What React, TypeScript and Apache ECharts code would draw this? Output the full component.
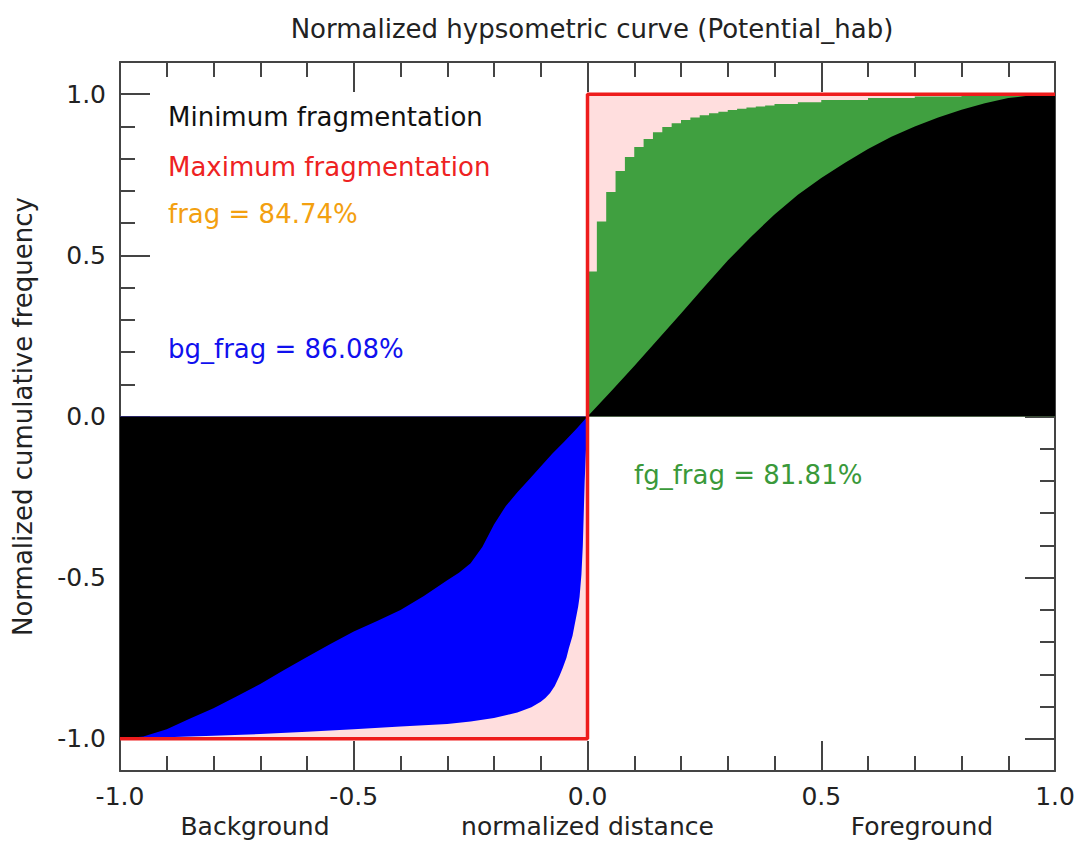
import React, { useEffect, useRef } from "react";
import * as echarts from "echarts";

const TITLE = "Normalized hypsometric curve (Potential_hab)";
const Y_NAME = "Normalized cumulative frequency";
const X_NAME = "normalized distance";
const X_LEFT_NAME = "Background";
const X_RIGHT_NAME = "Foreground";

const annotations = [
  { text: "Minimum fragmentation", color: "#111111" },
  { text: "Maximum fragmentation", color: "#ee2222" },
  { text: "frag = 84.74%", color: "#f3a010" },
  { text: "bg_frag = 86.08%", color: "#1010ee" },
  { text: "fg_frag = 81.81%", color: "#3a993a" },
];

// Maximum fragmentation (red outline)
const maxX = [-1, 0, 0, 1];
const maxY = [-1, -1, 1, 1];

// Foreground: minimum fragmentation curve (black)
const fgMinX = [0, 0.025, 0.05, 0.075, 0.1, 0.15, 0.2, 0.25, 0.3, 0.35, 0.4, 0.45, 0.5, 0.55, 0.6, 0.65, 0.7, 0.75, 0.8, 0.85, 0.9, 0.95, 1.0];
const fgMinY = [0, 0.039, 0.078, 0.117, 0.157, 0.238, 0.32, 0.403, 0.484, 0.558, 0.627, 0.688, 0.74, 0.787, 0.83, 0.868, 0.9, 0.928, 0.952, 0.972, 0.988, 0.997, 1.0];

// Foreground: actual cumulative curve (green, stepped bins)
const fgX = [0, 0.02, 0.04, 0.06, 0.08, 0.1, 0.12, 0.14, 0.16, 0.18, 0.2, 0.22, 0.24, 0.26, 0.28, 0.3, 0.32, 0.34, 0.36, 0.38, 0.4, 0.45, 0.5, 0.6, 0.7, 0.8, 0.9, 1.0];
const fgY = [0, 0.45, 0.605, 0.697, 0.762, 0.805, 0.836, 0.861, 0.882, 0.898, 0.91, 0.92, 0.928, 0.935, 0.941, 0.946, 0.951, 0.955, 0.959, 0.962, 0.965, 0.97, 0.975, 0.982, 0.988, 0.993, 0.998, 1.0];

// Background: minimum fragmentation curve (black / blue boundary)
const bgMinX = [-1.0, -0.95, -0.9, -0.85, -0.8, -0.75, -0.7, -0.65, -0.6, -0.55, -0.5, -0.45, -0.4, -0.35, -0.3, -0.275, -0.25, -0.225, -0.2, -0.175, -0.15, -0.125, -0.1, -0.075, -0.05, -0.025, 0];
const bgMinY = [-1.0, -0.993, -0.97, -0.937, -0.905, -0.868, -0.83, -0.787, -0.746, -0.706, -0.667, -0.634, -0.6, -0.557, -0.508, -0.485, -0.455, -0.405, -0.335, -0.278, -0.235, -0.195, -0.155, -0.115, -0.078, -0.04, 0];

// Background: actual cumulative curve (blue / pink boundary)
const bgX = [-1.0, -0.95, -0.9, -0.8, -0.7, -0.6, -0.5, -0.4, -0.3, -0.25, -0.2, -0.15, -0.12, -0.1, -0.09, -0.08, -0.07, -0.06, -0.053, -0.045, -0.04, -0.032, -0.028, -0.024, -0.02, -0.017, -0.013, -0.01, -0.008, -0.006, -0.004, -0.002, 0];
const bgY = [-1.0, -0.998, -0.995, -0.99, -0.985, -0.978, -0.97, -0.962, -0.954, -0.946, -0.935, -0.918, -0.902, -0.885, -0.873, -0.858, -0.836, -0.805, -0.78, -0.748, -0.72, -0.68, -0.65, -0.62, -0.59, -0.56, -0.49, -0.4, -0.3, -0.2, -0.13, -0.06, 0];

const FONT = '"DejaVu Sans", "Liberation Sans", sans-serif';

const zip = (xs: number[], ys: number[]) => xs.map((x, i) => [x, ys[i]]);

export default function App() {
  const ref = useRef<HTMLDivElement>(null);

  useEffect(() => {
    document.body.style.margin = "0";
    if (!ref.current) return;
    const chart = echarts.init(ref.current, undefined, { renderer: "svg" });

    const axisLine = { show: true, onZero: false, lineStyle: { color: "#444", width: 2 } };
    const tick = { show: true, inside: true, length: 30, lineStyle: { color: "#444", width: 2 } };
    const minor = { show: true, splitNumber: 5, length: 15, lineStyle: { color: "#444", width: 2 } };
    const fmt = (v: number) => (Math.abs(v) < 1e-9 ? "0.0" : v.toFixed(1));
    const label = { fontSize: 25, color: "#222", fontFamily: FONT, formatter: fmt };

    const areaLine = (name: string, data: number[][], color: string, opts: any = {}) => ({
      name,
      type: "line",
      data,
      showSymbol: false,
      symbol: "none",
      lineStyle: { width: 0 },
      areaStyle: { color, opacity: 1, origin: "auto" },
      silent: true,
      ...opts,
    });

    chart.setOption({
      animation: false,
      backgroundColor: "#ffffff",
      title: {
        text: TITLE,
        left: 587,
        textAlign: "center",
        top: 11,
        textStyle: { fontSize: 26, fontWeight: "normal", color: "#222", fontFamily: FONT },
      },
      grid: { left: 120, right: 28, top: 62, bottom: 72 },
      xAxis: [
        {
          type: "value",
          min: -1,
          max: 1,
          interval: 0.5,
          position: "bottom",
          axisLine,
          axisTick: tick,
          minorTick: minor,
          splitLine: { show: false },
          axisLabel: { ...label, margin: 13 },
          name: X_NAME,
          nameLocation: "middle",
          nameGap: 40,
          nameTextStyle: { fontSize: 25, color: "#222", fontFamily: FONT },
        },
        {
          type: "value",
          min: -1,
          max: 1,
          interval: 0.5,
          position: "top",
          axisLine,
          axisTick: tick,
          minorTick: minor,
          splitLine: { show: false },
          axisLabel: { show: false },
        },
      ],
      yAxis: [
        {
          type: "value",
          min: -1.1,
          max: 1.1,
          minInterval: 0.5,
          maxInterval: 0.5,
          position: "left",
          axisLine,
          axisTick: tick,
          minorTick: minor,
          splitLine: { show: false },
          axisLabel: { ...label, margin: 14, showMinLabel: false, showMaxLabel: false },
          name: Y_NAME,
          nameLocation: "middle",
          nameGap: 84,
          nameRotate: 90,
          nameTextStyle: { fontSize: 26, color: "#222", fontFamily: FONT },
        },
        {
          type: "value",
          min: -1.1,
          max: 1.1,
          minInterval: 0.5,
          maxInterval: 0.5,
          position: "right",
          axisLine,
          axisTick: tick,
          minorTick: minor,
          splitLine: { show: false },
          axisLabel: { show: false },
        },
      ],
      series: [
        areaLine("max-area", zip(maxX, maxY), "#ffdede"),
        areaLine("fg-actual", zip(fgX, fgY), "#40a040", { step: "start" }),
        areaLine("fg-min", zip(fgMinX, fgMinY), "#000000"),
        areaLine("bg-actual", zip(bgX, bgY), "#0000ff"),
        areaLine("bg-min", zip(bgMinX, bgMinY), "#000000"),
        {
          name: "max-line",
          type: "line",
          data: zip(maxX, maxY),
          showSymbol: false,
          symbol: "none",
          lineStyle: { color: "#ee1c1c", width: 3.5 },
          silent: true,
        },
      ],
      graphic: [
        ...annotations.slice(0, 4).map((a, i) => ({
          type: "text",
          x: 168,
          y: [117, 167, 214, 349][i],
          style: { text: a.text, fill: a.color, font: `26px ${FONT}`, verticalAlign: "middle", align: "left" },
          z: 100,
        })),
        {
          type: "text",
          x: 634,
          y: 475,
          style: { text: annotations[4].text, fill: annotations[4].color, font: `26px ${FONT}`, verticalAlign: "middle", align: "left" },
          z: 100,
        },
        {
          type: "text",
          x: 255,
          y: 826,
          style: { text: X_LEFT_NAME, fill: "#222", font: `25px ${FONT}`, verticalAlign: "middle", align: "center" },
        },
        {
          type: "text",
          x: 922,
          y: 826,
          style: { text: X_RIGHT_NAME, fill: "#222", font: `25px ${FONT}`, verticalAlign: "middle", align: "center" },
        },
      ],
    });

    return () => chart.dispose();
  }, []);

  return <div ref={ref} style={{ width: 1083, height: 844 }} />;
}
